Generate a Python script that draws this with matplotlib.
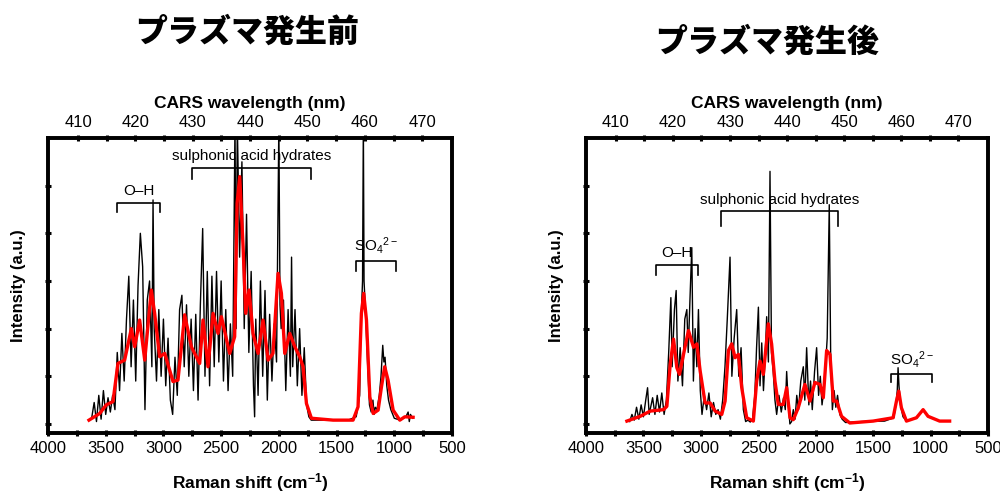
import matplotlib
matplotlib.use("Agg")
import matplotlib.pyplot as plt

plt.rcParams['font.family'] = ['Liberation Sans', 'DejaVu Sans']
plt.rcParams['mathtext.fontset'] = 'custom'
plt.rcParams['mathtext.rm'] = 'Liberation Sans'
plt.rcParams['mathtext.it'] = 'Liberation Sans'
plt.rcParams['mathtext.bf'] = 'Liberation Sans:bold'

titles = ['プラズマ発生前', 'プラズマ発生後']

# ---- before plasma: raw CARS spectrum (black) ----
shift_pre_raw = [3620, 3600, 3580, 3560, 3540, 3520, 3500, 3480, 3460, 3440, 3420, 3400, 3380, 3360, 3340,
                 3320, 3300, 3280, 3260, 3240, 3220, 3200, 3180, 3160, 3140, 3120, 3100, 3090, 3080, 3060,
                 3040, 3020, 3000, 2980, 2960, 2940, 2920, 2900, 2880, 2860, 2840, 2820, 2800, 2780, 2760,
                 2740, 2720, 2700, 2680, 2660, 2640, 2620, 2600, 2580, 2560, 2540, 2520, 2500, 2480, 2460,
                 2440, 2420, 2400, 2380, 2370, 2360, 2340, 2320, 2300, 2280, 2260, 2240, 2220, 2210, 2200,
                 2180, 2160, 2140, 2120, 2100, 2080, 2060, 2040, 2020, 2000, 1990, 1980, 1960, 1940, 1920,
                 1900, 1890, 1880, 1860, 1840, 1820, 1800, 1780, 1760, 1740, 1720, 1600, 1400, 1330, 1300,
                 1290, 1275, 1268, 1262, 1250, 1230, 1215, 1200, 1185, 1175, 1165, 1150, 1130, 1115, 1100,
                 1090, 1080, 1065, 1050, 1030, 1000, 950, 900, 880, 870, 860, 840]
int_pre_raw = [0.15, 0.45, 0.05, 0.6, 0.1, 0.7, 0.2, 0.55, 0.25, 0.6, 0.3, 1.5, 0.7, 1.9, 0.9,
               2.2, 3.1, 1.2, 2.6, 0.9, 2.9, 4.0, 3.3, 0.3, 2.6, 3.0, 1.2, 4.7, 2.0, 0.9,
               2.4, 1.0, 2.2, 0.8, 1.8, 0.5, 0.2, 1.4, 0.6, 2.4, 2.7, 1.2, 2.5, 1.0, 2.2,
               0.7, 2.3, 0.5, 2.5, 4.1, 1.0, 3.2, 0.8, 3.1, 1.2, 3.2, 1.3, 3.0, 0.9, 2.4,
               0.7, 2.1, 1.0, 6.3, 2.0, 6.3, 3.5, 5.5, 2.0, 4.4, 1.5, 3.2, 0.8, 0.15, 2.2,
               0.6, 3.0, 1.0, 2.8, 0.5, 2.3, 0.9, 2.1, 1.3, 6.3, 2.5, 2.0, 2.6, 0.7, 2.4,
               1.0, 3.5, 1.2, 2.4, 0.8, 2.0, 0.6, 1.6, 0.4, 0.15, 0.08, 0.08, 0.08, 0.15, 0.6,
               2.0, 3.0, 6.3, 3.0, 2.4, 1.2, 0.4, 0.25, 0.5, 0.2, 0.35, 0.3, 0.6, 1.0, 1.65,
               1.3, 1.4, 0.8, 0.5, 0.3, 0.12, 0.08, 0.15, 0.25, 0.05, 0.2, 0.12]

# ---- before plasma: smoothed spectrum (red) ----
shift_pre_fit = [3645, 3552, 3495, 3437, 3394, 3336, 3278, 3249, 3206, 3162, 3105, 3076, 3033, 2989, 2917,
                 2874, 2816, 2758, 2686, 2657, 2614, 2570, 2527, 2498, 2426, 2383, 2362, 2339, 2310, 2287,
                 2258, 2224, 2180, 2137, 2093, 2051, 2007, 1978, 1949, 1906, 1862, 1819, 1790, 1761, 1718,
                 1530, 1357, 1314, 1285, 1265, 1241, 1212, 1183, 1140, 1111, 1083, 1054, 1010, 952, 909, 837]
int_pre_fit = [0.08, 0.22, 0.4, 0.47, 1.27, 1.34, 2.0, 1.62, 2.18, 1.34, 2.81, 2.32, 1.41, 1.48, 0.89,
               0.92, 2.29, 1.62, 1.27, 2.18, 1.2, 2.32, 1.9, 2.25, 1.48, 1.83, 4.63, 5.19, 3.72, 2.32,
               2.81, 1.9, 1.48, 2.18, 1.34, 1.48, 3.16, 2.74, 1.48, 1.9, 1.62, 1.41, 1.2, 0.43, 0.12,
               0.08, 0.08, 0.36, 2.32, 2.74, 2.18, 0.57, 0.22, 0.29, 0.78, 1.2, 0.92, 0.29, 0.08, 0.15, 0.14]

# ---- after plasma: raw CARS spectrum (black) ----
shift_post_raw = [3620, 3600, 3580, 3560, 3540, 3520, 3500, 3480, 3464, 3450, 3420, 3400, 3380, 3360, 3340,
                  3320, 3300, 3280, 3261, 3250, 3230, 3215, 3200, 3180, 3160, 3140, 3122, 3110, 3095, 3079,
                  3065, 3050, 3035, 3021, 3005, 2990, 2970, 2950, 2930, 2910, 2890, 2870, 2850, 2830, 2810,
                  2790, 2770, 2746, 2730, 2710, 2688, 2670, 2650, 2630, 2610, 2590, 2570, 2550, 2530, 2515,
                  2499, 2485, 2470, 2455, 2440, 2427, 2412, 2398, 2385, 2370, 2355, 2340, 2320, 2300, 2280,
                  2265, 2253, 2240, 2225, 2210, 2195, 2180, 2165, 2150, 2130, 2108, 2095, 2079, 2060, 2045,
                  2030, 2010, 1992, 1975, 1960, 1945, 1930, 1915, 1900, 1882, 1870, 1855, 1840, 1825, 1810,
                  1790, 1770, 1740, 1600, 1400, 1320, 1300, 1290, 1283, 1275, 1262, 1240, 1210, 1120, 1065,
                  1020, 920, 840]
int_post_raw = [0.05, 0.2, 0.08, 0.35, 0.1, 0.4, 0.15, 0.5, 0.76, 0.2, 0.55, 0.2, 0.6, 0.25, 0.65,
                0.2, 0.5, 1.5, 2.65, 1.2, 2.4, 2.8, 0.9, 1.6, 0.8, 2.2, 2.4, 1.5, 2.6, 3.7,
                0.9, 2.0, 1.2, 2.4, 0.7, 0.2, 0.6, 0.3, 0.65, 0.15, 0.45, 0.2, 0.3, 0.1, 0.5,
                1.2, 2.2, 3.5, 1.0, 1.8, 2.4, 1.0, 1.6, 0.3, 0.05, 0.08, 0.04, 0.1, 0.6, 1.6,
                2.45, 0.8, 1.7, 0.7, 1.4, 2.25, 1.3, 5.3, 1.5, 1.1, 0.5, 0.2, 0.6, 0.25, 0.55,
                0.3, 1.1, 0.5, 0.0, 0.05, 0.3, 0.1, 0.6, 0.3, 0.9, 1.2, 0.5, 1.6, 0.4, 0.9,
                0.3, 1.1, 1.6, 0.6, 1.0, 0.4, 0.7, 1.2, 1.8, 4.6, 1.5, 0.3, 0.7, 0.35, 0.6,
                0.2, 0.1, 0.03, 0.05, 0.06, 0.13, 0.45, 0.7, 1.18, 0.8, 0.4, 0.15, 0.06, 0.13, 0.3,
                0.15, 0.06, 0.06]

# ---- after plasma: smoothed spectrum (red) ----
shift_post_fit = [3644, 3528, 3441, 3325, 3296, 3267, 3238, 3209, 3186, 3151, 3108, 3064, 3035, 3006, 2963,
                  2919, 2876, 2818, 2789, 2760, 2731, 2702, 2673, 2644, 2601, 2543, 2514, 2485, 2456, 2413,
                  2384, 2355, 2326, 2282, 2253, 2224, 2195, 2152, 2094, 2050, 2007, 1963, 1934, 1905, 1876,
                  1847, 1818, 1775, 1703, 1500, 1326, 1297, 1277, 1254, 1210, 1123, 1065, 1022, 921, 834]
int_post_fit = [0.06, 0.16, 0.27, 0.3, 0.37, 1.25, 1.78, 1.18, 1.04, 1.46, 1.96, 1.61, 1.68, 1.11, 0.44,
                0.44, 0.27, 0.2, 0.48, 1.54, 1.68, 1.39, 1.46, 0.76, 0.13, 0.06, 0.9, 1.32, 1.04, 2.1,
                1.68, 0.9, 0.41, 0.41, 0.76, 0.13, 0.09, 0.34, 0.83, 0.48, 0.87, 0.83, 0.55, 1.54, 1.46,
                0.48, 0.48, 0.16, 0.02, 0.06, 0.13, 0.48, 0.69, 0.34, 0.06, 0.13, 0.3, 0.16, 0.06, 0.06]

# bracket annotations: (label, left shift, right shift, bracket height, tick depth, text height)
labels_pre = [('O–H', 3402, 3027, 4.64, 0.2, 4.75),
              ('sulphonic acid hydrates', 2752, 1724, 5.38, 0.23, 5.48),
              ('SO$_4$$^{2-}$', 1334, 988, 3.42, 0.22, 3.52)]
labels_post = [('O–H', 3392, 3027, 3.33, 0.2, 3.43),
               ('sulphonic acid hydrates', 2824, 1804, 4.46, 0.3, 4.56),
               ('SO$_4$$^{2-}$', 1341, 987, 1.04, 0.17, 1.14)]


def to_nm(s):
    return 410 + (3740 - s) / 49.7


fig = plt.figure(figsize=(10, 4.93), dpi=100)
ax_pre = fig.add_axes([0.048, 0.1217, 0.404, 0.5984])
ax_post = fig.add_axes([0.586, 0.1217, 0.402, 0.5984])

panels = [(ax_pre, shift_pre_raw, int_pre_raw, shift_pre_fit, int_pre_fit, labels_pre),
          (ax_post, shift_post_raw, int_post_raw, shift_post_fit, int_post_fit, labels_post)]

for ax, sx, sy, fx, fy, labs in panels:
    ax.plot(sx, sy, color='black', lw=1.0, zorder=2)
    ax.plot(fx, fy, color='#ff0000', lw=2.4, zorder=3)
    ax.set_xlim(4000, 500)
    ax.set_ylim(-0.19, 6.0)
    ax.set_xticks([4000, 3500, 3000, 2500, 2000, 1500, 1000, 500])
    ax.set_xticks([3750, 3250, 2750, 2250, 1750, 1250, 750], minor=True)
    ax.set_yticks([0, 1, 2, 3, 4, 5])
    ax.set_yticklabels([])
    ax.tick_params(axis='x', which='both', direction='inout', length=5, width=2.2, labelsize=12, pad=3)
    ax.tick_params(axis='y', direction='inout', length=5, width=2.2)
    for sp in ax.spines.values():
        sp.set_linewidth(2.6)
    ax.set_xlabel('Raman shift (cm$^{\\mathbf{-1}}$)', fontsize=12.5, fontweight='bold', labelpad=11)
    ax.set_ylabel('Intensity (a.u.)', fontsize=12, fontweight='bold', labelpad=10)

    for text, x0, x1, yb, dep, yt in labs:
        ax.plot([x0, x0, x1, x1], [yb - dep, yb, yb, yb - dep], color='black', lw=1.2, zorder=4)
        ax.text((x0 + x1) / 2, yt, text, ha='center', va='bottom', fontsize=11, zorder=5)

    top = ax.twiny()
    top.set_xlim(to_nm(4000), to_nm(500))
    top.set_xticks([410, 420, 430, 440, 450, 460, 470])
    top.set_xticks([415, 425, 435, 445, 455, 465], minor=True)
    top.tick_params(axis='x', which='both', direction='inout', length=5, width=2.2, labelsize=12, pad=3)
    for sp in top.spines.values():
        sp.set_linewidth(2.6)
    top.set_xlabel('CARS wavelength (nm)', fontsize=12.5, fontweight='bold', labelpad=5)

fig.text(0.247, 0.935, titles[0], ha='center', va='center', fontsize=23, fontweight='black',
         family=['Noto Sans CJK JP', 'DejaVu Sans'])
fig.text(0.767, 0.915, titles[1], ha='center', va='center', fontsize=23, fontweight='black',
         family=['Noto Sans CJK JP', 'DejaVu Sans'])

fig.savefig('out.png', dpi=100)
